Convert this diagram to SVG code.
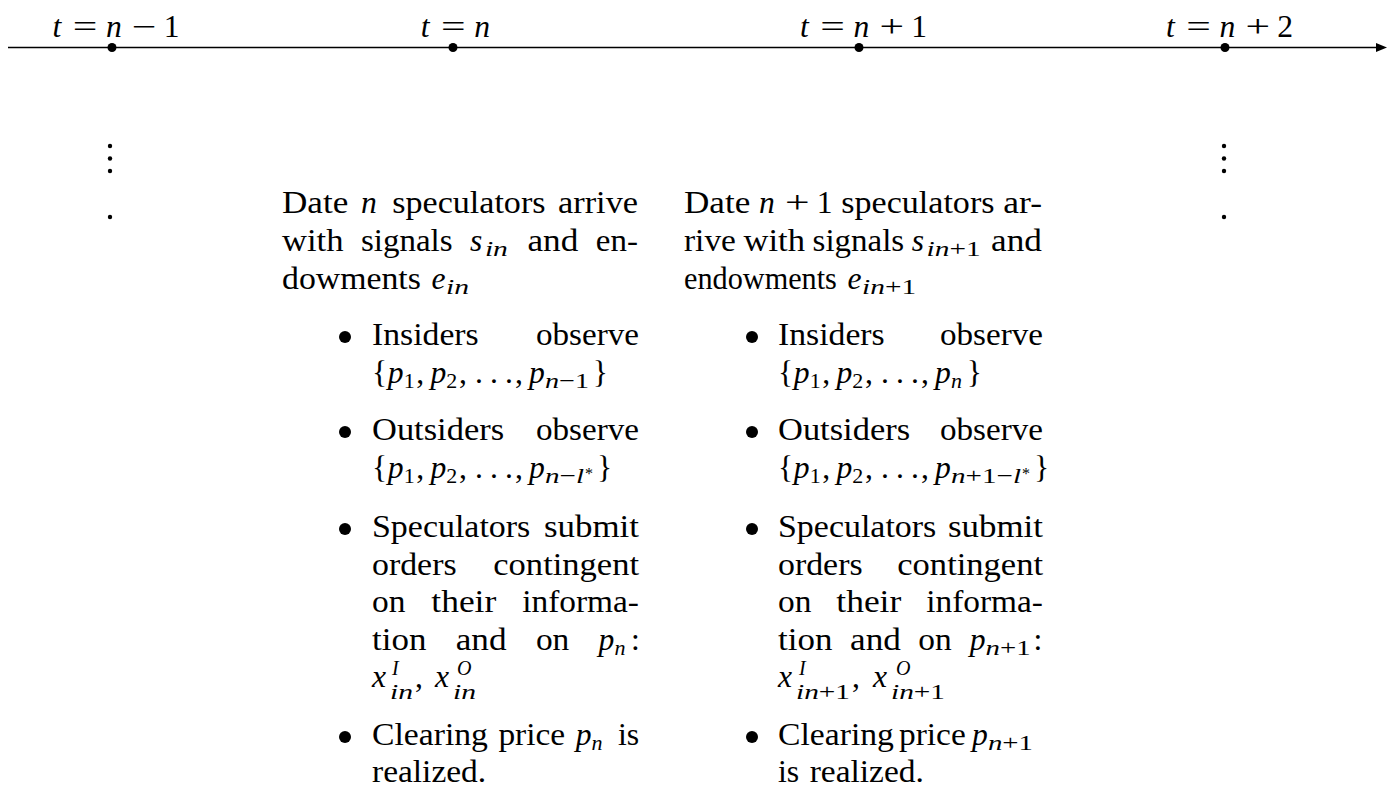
<svg xmlns="http://www.w3.org/2000/svg" width="1388" height="787" viewBox="0 0 1388 787">
<style>
.tx{font-family:"Liberation Serif","DejaVu Serif",serif;font-size:31.6px;fill:#000}
.it{font-style:italic}
.sb{font-size:22px}
.sp{font-size:20px}
.ss{font-size:16px}
.dot{fill:#000}
</style>
<defs>
<marker id="arr" markerUnits="userSpaceOnUse" markerWidth="12" markerHeight="10" refX="0" refY="4.5" orient="auto">
<path d="M0,0 L11,4.5 L0,9 z" fill="#000"/>
</marker>
</defs>
<rect width="1388" height="787" fill="#fff"/>

<g id="connectors">
<line x1="8" y1="47.5" x2="1376" y2="47.5" stroke="#000" stroke-width="1.3" marker-end="url(#arr)"/>
</g>

<g id="tick-n-1">
<circle class="dot" cx="112" cy="47.5" r="4.5"/>
<text class="tx it" x="52.5" y="37">t</text>
<text class="tx" x="72.7" y="37" textLength="24.6" lengthAdjust="spacingAndGlyphs">=</text>
<text class="tx it" x="106.1" y="37">n</text>
<text class="tx" x="132.1" y="37" textLength="24.6" lengthAdjust="spacingAndGlyphs">−</text>
<text class="tx" x="163.7" y="37">1</text>
</g>
<g id="tick-n">
<circle class="dot" cx="453" cy="47.5" r="4.5"/>
<text class="tx it" x="420.7" y="37">t</text>
<text class="tx" x="440.9" y="37" textLength="24.6" lengthAdjust="spacingAndGlyphs">=</text>
<text class="tx it" x="474.3" y="37">n</text>
</g>
<g id="tick-n1">
<circle class="dot" cx="859" cy="47.5" r="4.5"/>
<text class="tx it" x="800" y="37">t</text>
<text class="tx" x="820.2" y="37" textLength="24.6" lengthAdjust="spacingAndGlyphs">=</text>
<text class="tx it" x="853.6" y="37">n</text>
<text class="tx" x="879.6" y="37" textLength="24.6" lengthAdjust="spacingAndGlyphs">+</text>
<text class="tx" x="911.2" y="37">1</text>
</g>
<g id="tick-n2">
<circle class="dot" cx="1225" cy="47.5" r="4.5"/>
<text class="tx it" x="1166" y="37">t</text>
<text class="tx" x="1186.2" y="37" textLength="24.6" lengthAdjust="spacingAndGlyphs">=</text>
<text class="tx it" x="1219.6" y="37">n</text>
<text class="tx" x="1245.6" y="37" textLength="24.6" lengthAdjust="spacingAndGlyphs">+</text>
<text class="tx" x="1277.2" y="37">2</text>
</g>

<g id="ellipsis-left">
<circle class="dot" cx="110" cy="146" r="2.2"/>
<circle class="dot" cx="110" cy="158.5" r="2.2"/>
<circle class="dot" cx="110" cy="171" r="2.2"/>
<circle class="dot" cx="110" cy="217" r="2.2"/>
</g>
<g id="ellipsis-right">
<circle class="dot" cx="1224" cy="146" r="2.2"/>
<circle class="dot" cx="1224" cy="158.5" r="2.2"/>
<circle class="dot" cx="1224" cy="171" r="2.2"/>
<circle class="dot" cx="1224" cy="217" r="2.2"/>
</g>

<g id="date-n">
<text class="tx" x="282" y="213" textLength="66.3" lengthAdjust="spacingAndGlyphs">Date</text>
<text class="tx it" x="361" y="213">n</text>
<text class="tx" x="392.3" y="213" textLength="153.2" lengthAdjust="spacingAndGlyphs">speculators</text>
<text class="tx" x="558" y="213" textLength="80.1" lengthAdjust="spacingAndGlyphs">arrive</text>
<text class="tx" x="282" y="251" textLength="61.5" lengthAdjust="spacingAndGlyphs">with</text>
<text class="tx" x="361" y="251" textLength="91.6" lengthAdjust="spacingAndGlyphs">signals</text>
<text class="tx it" x="470.1" y="251">s</text>
<text class="tx sb it" x="484.9" y="256" textLength="23" lengthAdjust="spacingAndGlyphs">in</text>
<text class="tx" x="527.4" y="251" textLength="50.9" lengthAdjust="spacingAndGlyphs">and</text>
<text class="tx" x="595.8" y="251" textLength="42.1" lengthAdjust="spacingAndGlyphs">en-</text>
<text class="tx" x="282" y="289" textLength="138.9" lengthAdjust="spacingAndGlyphs">dowments</text>
<text class="tx it" x="431.4" y="289">e</text>
<text class="tx sb it" x="446.1" y="294" textLength="23" lengthAdjust="spacingAndGlyphs">in</text>

<circle class="dot" cx="345" cy="337" r="6"/>
<text class="tx" x="372" y="345" textLength="106.7" lengthAdjust="spacingAndGlyphs">Insiders</text>
<text class="tx" x="536" y="345" textLength="103" lengthAdjust="spacingAndGlyphs">observe</text>
<text class="tx" x="372" y="383">{</text>
<text class="tx it" x="387.8" y="383">p</text>
<text class="tx sb" x="403.7" y="388">1</text>
<text class="tx" x="416.3" y="383">,</text>
<text class="tx it" x="430.4" y="383">p</text>
<text class="tx sb" x="446.3" y="388">2</text>
<text class="tx" x="458.9" y="383">,</text>
<text class="tx" x="475" y="383" textLength="38" lengthAdjust="spacing">. . .</text>
<text class="tx" x="515" y="383">,</text>
<text class="tx it" x="529.1" y="383">p</text>
<text class="tx sb" x="545" y="388" textLength="44" lengthAdjust="spacingAndGlyphs"><tspan class="it">n</tspan>−1</text>
<text class="tx" x="592.7" y="383">}</text>

<circle class="dot" cx="345" cy="432" r="6"/>
<text class="tx" x="372" y="440" textLength="132.1" lengthAdjust="spacingAndGlyphs">Outsiders</text>
<text class="tx" x="536" y="440" textLength="103" lengthAdjust="spacingAndGlyphs">observe</text>
<text class="tx" x="372" y="478">{</text>
<text class="tx it" x="387.8" y="478">p</text>
<text class="tx sb" x="403.7" y="483">1</text>
<text class="tx" x="416.3" y="478">,</text>
<text class="tx it" x="430.4" y="478">p</text>
<text class="tx sb" x="446.3" y="483">2</text>
<text class="tx" x="458.9" y="478">,</text>
<text class="tx" x="475" y="478" textLength="38" lengthAdjust="spacing">. . .</text>
<text class="tx" x="515" y="478">,</text>
<text class="tx it" x="529.1" y="478">p</text>
<text class="tx sb" x="545" y="483" textLength="39" lengthAdjust="spacingAndGlyphs"><tspan class="it">n</tspan>−<tspan class="it">l</tspan></text>
<text class="tx ss" x="585" y="479">*</text>
<text class="tx" x="597" y="478">}</text>

<circle class="dot" cx="345" cy="529" r="6"/>
<text class="tx" x="372" y="537" textLength="158.3" lengthAdjust="spacingAndGlyphs">Speculators</text>
<text class="tx" x="544" y="537" textLength="95" lengthAdjust="spacingAndGlyphs">submit</text>
<text class="tx" x="372" y="575" textLength="84.6" lengthAdjust="spacingAndGlyphs">orders</text>
<text class="tx" x="493.3" y="575" textLength="145.7" lengthAdjust="spacingAndGlyphs">contingent</text>
<text class="tx" x="372" y="612" textLength="33.4" lengthAdjust="spacingAndGlyphs">on</text>
<text class="tx" x="431.3" y="612" textLength="65" lengthAdjust="spacingAndGlyphs">their</text>
<text class="tx" x="522.2" y="612" textLength="116.8" lengthAdjust="spacingAndGlyphs">informa-</text>
<text class="tx" x="372" y="650" textLength="54.4" lengthAdjust="spacingAndGlyphs">tion</text>
<text class="tx" x="455.7" y="650" textLength="50.9" lengthAdjust="spacingAndGlyphs">and</text>
<text class="tx" x="535.9" y="650" textLength="33.4" lengthAdjust="spacingAndGlyphs">on</text>
<text class="tx it" x="598.6" y="650">p</text>
<text class="tx sb it" x="614.5" y="655">n</text>
<text class="tx" x="631" y="650">:</text>
<text class="tx it" x="372" y="687">x</text>
<text class="tx sp it" x="392" y="675">I</text>
<text class="tx sb it" x="390" y="699" textLength="23" lengthAdjust="spacingAndGlyphs">in</text>
<text class="tx" x="415" y="687">,</text>
<text class="tx it" x="435" y="687">x</text>
<text class="tx sp it" x="457" y="675">O</text>
<text class="tx sb it" x="453" y="699" textLength="23" lengthAdjust="spacingAndGlyphs">in</text>

<circle class="dot" cx="345" cy="737" r="6"/>
<text class="tx" x="372" y="745" textLength="115.9" lengthAdjust="spacingAndGlyphs">Clearing</text>
<text class="tx" x="498.4" y="745" textLength="66.8" lengthAdjust="spacingAndGlyphs">price</text>
<text class="tx it" x="575.7" y="745">p</text>
<text class="tx sb it" x="591.6" y="750">n</text>
<text class="tx" x="617.9" y="745" textLength="21.2" lengthAdjust="spacingAndGlyphs">is</text>
<text class="tx" x="372" y="782" textLength="114.2" lengthAdjust="spacingAndGlyphs">realized.</text>
</g>

<g id="date-n1">
<text class="tx" x="684" y="213" textLength="66.3" lengthAdjust="spacingAndGlyphs">Date</text>
<text class="tx it" x="759.1" y="213">n</text>
<text class="tx" x="785.1" y="213" textLength="24.6" lengthAdjust="spacingAndGlyphs">+</text>
<text class="tx" x="816.7" y="213">1</text>
<text class="tx" x="841.3" y="213" textLength="153.2" lengthAdjust="spacingAndGlyphs">speculators</text>
<text class="tx" x="1003.3" y="213" textLength="38.7" lengthAdjust="spacingAndGlyphs">ar-</text>
<text class="tx" x="684" y="251" textLength="51.9" lengthAdjust="spacingAndGlyphs">rive</text>
<text class="tx" x="743.5" y="251" textLength="61.5" lengthAdjust="spacingAndGlyphs">with</text>
<text class="tx" x="812.6" y="251" textLength="91.6" lengthAdjust="spacingAndGlyphs">signals</text>
<text class="tx it" x="911.8" y="251">s</text>
<text class="tx sb" x="926.6" y="256" textLength="54" lengthAdjust="spacingAndGlyphs"><tspan class="it">in</tspan>+1</text>
<text class="tx" x="991.1" y="251" textLength="50.9" lengthAdjust="spacingAndGlyphs">and</text>
<text class="tx" x="684" y="289" textLength="152.9" lengthAdjust="spacingAndGlyphs">endowments</text>
<text class="tx it" x="847.4" y="289">e</text>
<text class="tx sb" x="862.1" y="294" textLength="54" lengthAdjust="spacingAndGlyphs"><tspan class="it">in</tspan>+1</text>

<circle class="dot" cx="752" cy="337" r="6"/>
<text class="tx" x="778" y="345" textLength="106.7" lengthAdjust="spacingAndGlyphs">Insiders</text>
<text class="tx" x="940" y="345" textLength="103" lengthAdjust="spacingAndGlyphs">observe</text>
<text class="tx" x="778" y="383">{</text>
<text class="tx it" x="793.8" y="383">p</text>
<text class="tx sb" x="809.7" y="388">1</text>
<text class="tx" x="822.3" y="383">,</text>
<text class="tx it" x="836.4" y="383">p</text>
<text class="tx sb" x="852.3" y="388">2</text>
<text class="tx" x="864.9" y="383">,</text>
<text class="tx" x="881" y="383" textLength="38" lengthAdjust="spacing">. . .</text>
<text class="tx" x="921" y="383">,</text>
<text class="tx it" x="935.1" y="383">p</text>
<text class="tx sb it" x="951" y="388">n</text>
<text class="tx" x="966.8" y="383">}</text>

<circle class="dot" cx="752" cy="432" r="6"/>
<text class="tx" x="778" y="440" textLength="132.1" lengthAdjust="spacingAndGlyphs">Outsiders</text>
<text class="tx" x="940" y="440" textLength="103" lengthAdjust="spacingAndGlyphs">observe</text>
<text class="tx" x="778" y="478">{</text>
<text class="tx it" x="793.8" y="478">p</text>
<text class="tx sb" x="809.7" y="483">1</text>
<text class="tx" x="822.3" y="478">,</text>
<text class="tx it" x="836.4" y="478">p</text>
<text class="tx sb" x="852.3" y="483">2</text>
<text class="tx" x="864.9" y="478">,</text>
<text class="tx" x="881" y="478" textLength="38" lengthAdjust="spacing">. . .</text>
<text class="tx" x="921" y="478">,</text>
<text class="tx it" x="935.1" y="478">p</text>
<text class="tx sb" x="951" y="483" textLength="70" lengthAdjust="spacingAndGlyphs"><tspan class="it">n</tspan>+1−<tspan class="it">l</tspan></text>
<text class="tx ss" x="1022" y="479">*</text>
<text class="tx" x="1034" y="478">}</text>

<circle class="dot" cx="752" cy="529" r="6"/>
<text class="tx" x="778" y="537" textLength="158.3" lengthAdjust="spacingAndGlyphs">Speculators</text>
<text class="tx" x="948" y="537" textLength="95" lengthAdjust="spacingAndGlyphs">submit</text>
<text class="tx" x="778" y="575" textLength="84.6" lengthAdjust="spacingAndGlyphs">orders</text>
<text class="tx" x="897.3" y="575" textLength="145.7" lengthAdjust="spacingAndGlyphs">contingent</text>
<text class="tx" x="778" y="612" textLength="33.4" lengthAdjust="spacingAndGlyphs">on</text>
<text class="tx" x="836.3" y="612" textLength="65" lengthAdjust="spacingAndGlyphs">their</text>
<text class="tx" x="926.2" y="612" textLength="116.8" lengthAdjust="spacingAndGlyphs">informa-</text>
<text class="tx" x="778" y="650" textLength="54.4" lengthAdjust="spacingAndGlyphs">tion</text>
<text class="tx" x="850" y="650" textLength="50.9" lengthAdjust="spacingAndGlyphs">and</text>
<text class="tx" x="918.3" y="650" textLength="33.4" lengthAdjust="spacingAndGlyphs">on</text>
<text class="tx it" x="969.7" y="650">p</text>
<text class="tx sb" x="985.6" y="655" textLength="45" lengthAdjust="spacingAndGlyphs"><tspan class="it">n</tspan>+1</text>
<text class="tx" x="1033.5" y="650">:</text>
<text class="tx it" x="778" y="687">x</text>
<text class="tx sp it" x="799" y="675">I</text>
<text class="tx sb" x="796" y="699" textLength="54" lengthAdjust="spacingAndGlyphs"><tspan class="it">in</tspan>+1</text>
<text class="tx" x="852" y="687">,</text>
<text class="tx it" x="873" y="687">x</text>
<text class="tx sp it" x="896" y="675">O</text>
<text class="tx sb" x="891" y="699" textLength="54" lengthAdjust="spacingAndGlyphs"><tspan class="it">in</tspan>+1</text>

<circle class="dot" cx="752" cy="737" r="6"/>
<text class="tx" x="778" y="745" textLength="115.9" lengthAdjust="spacingAndGlyphs">Clearing</text>
<text class="tx" x="899" y="745" textLength="66.8" lengthAdjust="spacingAndGlyphs">price</text>
<text class="tx it" x="972" y="745">p</text>
<text class="tx sb" x="988" y="750" textLength="45" lengthAdjust="spacingAndGlyphs"><tspan class="it">n</tspan>+1</text>
<text class="tx" x="778" y="782" textLength="21.2" lengthAdjust="spacingAndGlyphs">is</text>
<text class="tx" x="809.7" y="782" textLength="114.2" lengthAdjust="spacingAndGlyphs">realized.</text>
</g>
</svg>
